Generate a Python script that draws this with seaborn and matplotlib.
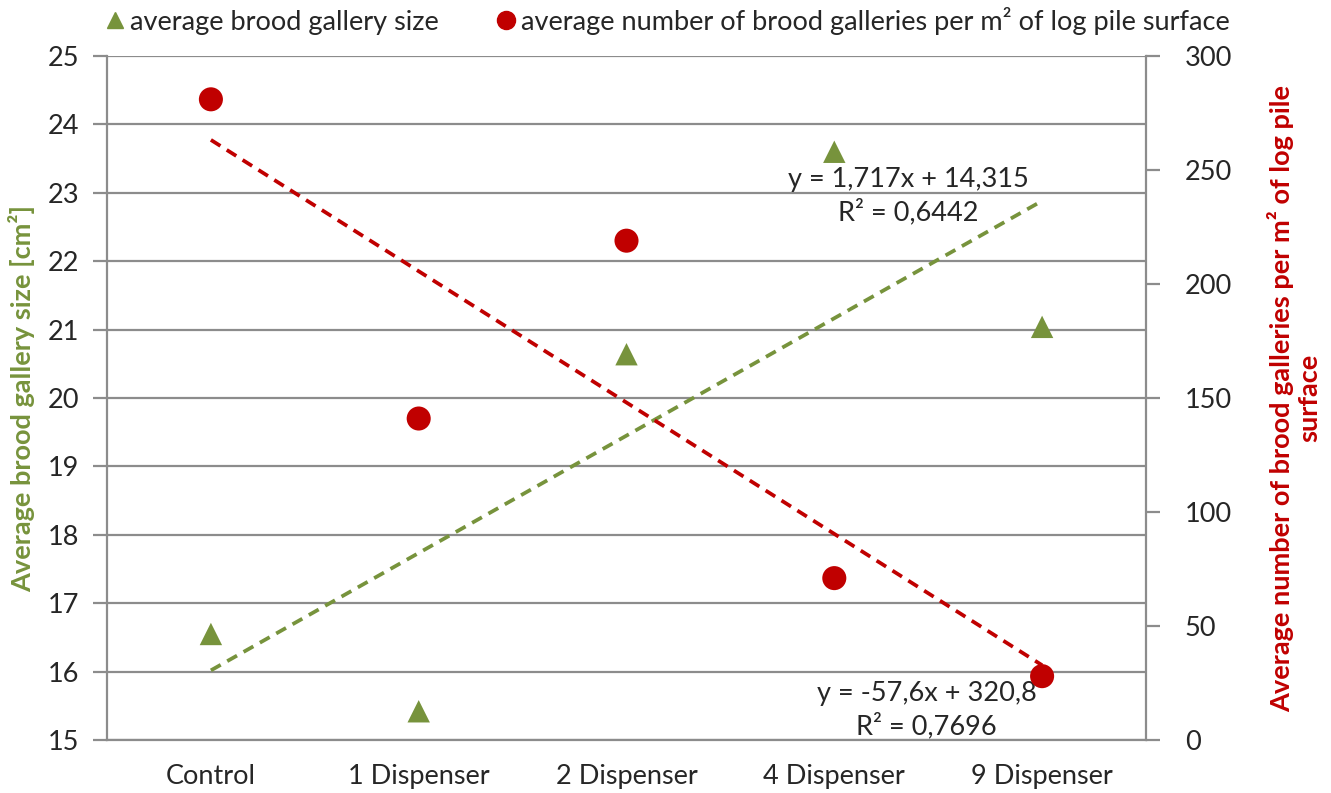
import numpy as np
import pandas as pd
import matplotlib
matplotlib.use("Agg")
import matplotlib.pyplot as plt
from matplotlib.lines import Line2D
import seaborn as sns

categories = ["Control", "1 Dispenser", "2 Dispenser", "4 Dispenser", "9 Dispenser"]
gallery_size = [16.55, 15.42, 20.64, 23.60, 21.04]
gallery_count = [281, 141, 219, 71, 28]
left_ticks = [15, 16, 17, 18, 19, 20, 21, 22, 23, 24, 25]
right_ticks = [0, 50, 100, 150, 200, 250, 300]
eq_green = "y = 1,717x + 14,315\nR² = 0,6442"
eq_red = "y = -57,6x + 320,8\nR² = 0,7696"

GREEN = "#77933C"
RED = "#C00000"
GRID = "#8C8C8C"
FS = 19.5

sns.set_style("white")
plt.rcParams["font.family"] = ["Lato", "DejaVu Sans"]

df = pd.DataFrame({"pos": np.arange(len(categories)), "cat": categories,
                   "size": gallery_size, "count": gallery_count})

fig = plt.figure(figsize=(13.31, 7.93), dpi=100)
ax = fig.add_axes([107 / 1331, 1 - 740 / 793, (1146 - 107) / 1331, (740 - 56) / 793])
ax2 = ax.twinx()

# left axis: gallery size
ax.set_ylim(15, 25)
ax.set_xlim(-0.5, len(categories) - 0.5)
ax.set_yticks(left_ticks)
ax.yaxis.grid(True, color=GRID, lw=1.6)
ax.set_axisbelow(True)
sns.regplot(data=df, x="pos", y="size", ax=ax, scatter=False, ci=None, truncate=True,
            line_kws=dict(color=GREEN, ls=(0, (3, 2.0)), lw=2.7))
sns.scatterplot(data=df, x="pos", y="size", ax=ax, marker="^", s=260, color=GREEN,
                edgecolor="none", zorder=5, legend=False)

# right axis: gallery count
ax2.set_ylim(0, 300)
ax2.set_yticks(right_ticks)
sns.regplot(data=df, x="pos", y="count", ax=ax2, scatter=False, ci=None, truncate=True,
            line_kws=dict(color=RED, ls=(0, (3, 2.0)), lw=2.7))
sns.scatterplot(data=df, x="pos", y="count", ax=ax2, marker="o", s=300, color=RED,
                edgecolor="none", zorder=5, legend=False)

# x axis
ax.set_xticks(df["pos"])
ax.set_xticklabels(categories)
ax.set_xticks(np.arange(-0.5, len(categories), 1.0), minor=True)
ax.tick_params(axis="x", which="major", length=0, pad=17, labelsize=FS)
ax.tick_params(axis="x", which="minor", length=9, width=1.6, color=GRID, direction="out")
ax.tick_params(axis="y", length=10, width=1.6, color=GRID, direction="out", labelsize=FS, pad=10)
ax2.tick_params(axis="y", length=10, width=1.6, color=GRID, direction="out", labelsize=FS, pad=18)

for a in (ax, ax2):
    a.set_xlabel("")
    a.set_ylabel("")
    a.spines["top"].set_visible(False)
    for side in ("left", "right", "bottom"):
        a.spines[side].set_color(GRID)
        a.spines[side].set_linewidth(1.6)
ax.spines["right"].set_visible(False)
ax2.spines["left"].set_visible(False)
ax2.spines["bottom"].set_visible(False)

ax.set_ylabel("Average brood gallery size [cm²]", color=GREEN, fontsize=FS,
              fontweight="bold", labelpad=9)
ax2.set_ylabel("Average number of brood galleries per m² of log pile\nsurface", color=RED,
               fontsize=FS, fontweight="bold", rotation=90, labelpad=25,
               multialignment="center", linespacing=1.15)

# trendline equations
ax.text(0.771, 0.795, eq_green, transform=ax.transAxes, ha="center", va="center",
        fontsize=FS, linespacing=1.3)
ax.text(0.789, 0.043, eq_red, transform=ax.transAxes, ha="center", va="center",
        fontsize=FS, linespacing=1.3)

# legend
handles = [Line2D([], [], marker="^", ls="none", color=GREEN, markersize=12),
           Line2D([], [], marker="o", ls="none", color=RED, markersize=13)]
fig.legend(handles, ["average brood gallery size",
                     "average number of brood galleries per m² of log pile surface"],
           loc="upper center", bbox_to_anchor=(0.5, 1.022), ncol=2, frameon=False,
           fontsize=FS, handletextpad=0.05, columnspacing=2.0, handlelength=1.0)

fig.savefig("out.png", dpi=100)
